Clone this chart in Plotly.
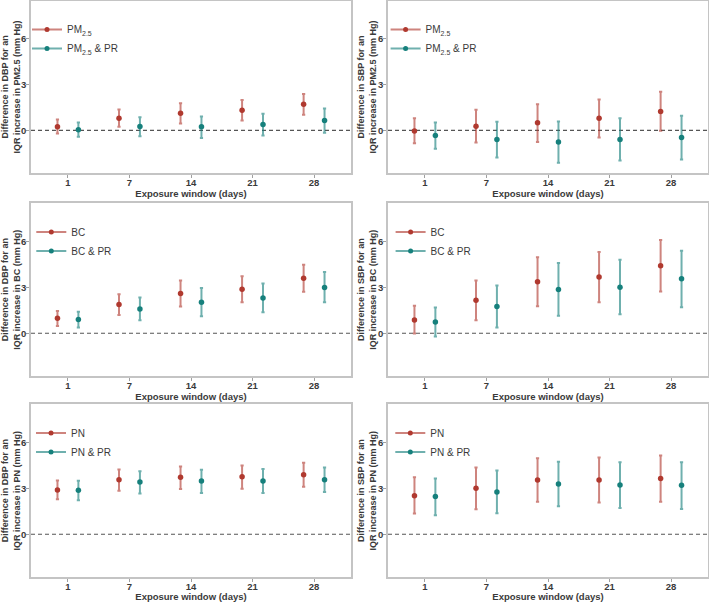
import plotly.graph_objects as go

days = ["1", "7", "14", "21", "28"]

# ---- DBP, PM2.5 ----
dbp_pm25_est = [0.24, 0.80, 1.13, 1.33, 1.72]
dbp_pm25_lo = [-0.20, 0.24, 0.46, 0.65, 1.02]
dbp_pm25_hi = [0.72, 1.37, 1.78, 2.00, 2.39]
dbp_pm25pr_est = [0.04, 0.26, 0.24, 0.39, 0.65]
dbp_pm25pr_lo = [-0.41, -0.39, -0.50, -0.33, -0.15]
dbp_pm25pr_hi = [0.52, 0.87, 0.91, 1.09, 1.43]

# ---- SBP, PM2.5 ----
sbp_pm25_est = [-0.04, 0.28, 0.50, 0.79, 1.24]
sbp_pm25_lo = [-0.85, -0.79, -0.76, -0.46, -0.02]
sbp_pm25_hi = [0.79, 1.35, 1.72, 2.03, 2.53]
sbp_pm25pr_est = [-0.33, -0.59, -0.76, -0.59, -0.46]
sbp_pm25pr_lo = [-1.20, -1.77, -2.12, -1.97, -1.90]
sbp_pm25pr_hi = [0.52, 0.57, 0.59, 0.79, 0.96]

# ---- DBP, BC ----
dbp_bc_est = [0.98, 1.88, 2.60, 2.88, 3.60]
dbp_bc_lo = [0.48, 1.20, 1.75, 2.03, 2.71]
dbp_bc_hi = [1.46, 2.55, 3.45, 3.73, 4.48]
dbp_bcpr_est = [0.90, 1.59, 2.03, 2.31, 2.99]
dbp_bcpr_lo = [0.37, 0.85, 1.11, 1.38, 2.03]
dbp_bcpr_hi = [1.40, 2.34, 2.95, 3.25, 4.00]

# ---- SBP, BC ----
sbp_bc_est = [0.87, 2.16, 3.36, 3.67, 4.41]
sbp_bc_lo = [-0.02, 0.85, 1.77, 2.03, 2.73]
sbp_bc_hi = [1.79, 3.45, 4.96, 5.31, 6.09]
sbp_bcpr_est = [0.74, 1.75, 2.86, 3.01, 3.56]
sbp_bcpr_lo = [-0.22, 0.37, 1.14, 1.24, 1.70]
sbp_bcpr_hi = [1.68, 3.12, 4.59, 4.80, 5.39]

# ---- DBP, PN ----
dbp_pn_est = [2.89, 3.57, 3.72, 3.76, 3.89]
dbp_pn_lo = [2.28, 2.85, 2.96, 2.98, 3.11]
dbp_pn_hi = [3.52, 4.24, 4.43, 4.50, 4.67]
dbp_pnpr_est = [2.87, 3.41, 3.48, 3.48, 3.57]
dbp_pnpr_lo = [2.22, 2.67, 2.70, 2.70, 2.76]
dbp_pnpr_hi = [3.50, 4.11, 4.22, 4.26, 4.37]

# ---- SBP, PN ----
sbp_pn_est = [2.52, 3.00, 3.54, 3.54, 3.65]
sbp_pn_lo = [1.35, 1.63, 2.13, 2.07, 2.13]
sbp_pn_hi = [3.72, 4.37, 4.96, 5.02, 5.15]
sbp_pnpr_est = [2.46, 2.76, 3.28, 3.22, 3.20]
sbp_pnpr_lo = [1.24, 1.37, 1.83, 1.72, 1.65]
sbp_pnpr_hi = [3.65, 4.17, 4.74, 4.70, 4.70]

y_ticks = [0, 3, 6]
x_title = "Exposure window (days)"

panels = [
    ("DBP", "PM2.5", "PM<sub>2.5</sub>", (dbp_pm25_est, dbp_pm25_lo, dbp_pm25_hi), (dbp_pm25pr_est, dbp_pm25pr_lo, dbp_pm25pr_hi)),
    ("SBP", "PM2.5", "PM<sub>2.5</sub>", (sbp_pm25_est, sbp_pm25_lo, sbp_pm25_hi), (sbp_pm25pr_est, sbp_pm25pr_lo, sbp_pm25pr_hi)),
    ("DBP", "BC", "BC", (dbp_bc_est, dbp_bc_lo, dbp_bc_hi), (dbp_bcpr_est, dbp_bcpr_lo, dbp_bcpr_hi)),
    ("SBP", "BC", "BC", (sbp_bc_est, sbp_bc_lo, sbp_bc_hi), (sbp_bcpr_est, sbp_bcpr_lo, sbp_bcpr_hi)),
    ("DBP", "PN", "PN", (dbp_pn_est, dbp_pn_lo, dbp_pn_hi), (dbp_pnpr_est, dbp_pnpr_lo, dbp_pnpr_hi)),
    ("SBP", "PN", "PN", (sbp_pn_est, sbp_pn_lo, sbp_pn_hi), (sbp_pnpr_est, sbp_pnpr_lo, sbp_pnpr_hi)),
]

W, H = 709, 602
RED = "#B0392F"
RED_BAR = "rgba(176,57,47,0.62)"
TEAL = "#16807C"
TEAL_BAR = "rgba(22,128,124,0.62)"
FONT = "Liberation Sans, Arial, sans-serif"
TXT = "#3a3a3a"

col_px = [(31, 351), (388, 708)]
row_px = [(0.8, 173.1), (203.2, 376.1), (404.2, 577.1)]
legend_text_off = [[36, 37.6], [40.3, 42.6], [40, 42.3]]
DODGE = 0.17

fig = go.Figure()
layout = {}
for k, (bp, poll, poll_html, single, dual) in enumerate(panels):
    r, c = divmod(k, 2)
    n = k + 1
    xa = "x" if n == 1 else f"x{n}"
    ya = "y" if n == 1 else f"y{n}"
    lg = "legend" if n == 1 else f"legend{n}"
    idx = list(range(len(days)))
    for (est, lo, hi), off, col, bar, name in [
        (single, -DODGE, RED, RED_BAR, poll_html),
        (dual, DODGE, TEAL, TEAL_BAR, poll_html + " & PR"),
    ]:
        fig.add_trace(go.Scatter(
            x=[i + off for i in idx], y=est, mode="markers",
            marker=dict(color=col, size=5.5),
            error_y=dict(type="data", symmetric=False,
                         array=[h - e for h, e in zip(hi, est)],
                         arrayminus=[e - l for e, l in zip(est, lo)],
                         color=bar, thickness=2, width=1.6),
            xaxis=xa, yaxis=ya, showlegend=False, hoverinfo="skip"))
        fig.add_trace(go.Scatter(
            x=[None], y=[None], mode="lines+markers", name=name,
            marker=dict(color=col, size=5), line=dict(color=bar, width=2),
            xaxis=xa, yaxis=ya, legend=lg, showlegend=True))

    x0, x1 = col_px[c]
    t, b = row_px[r]
    xdom = [x0 / W, x1 / W]
    ydom = [1 - b / H, 1 - t / H]
    axis_common = dict(showline=True, mirror=True, linecolor="#c4c4c4", linewidth=1.5,
                       showgrid=False, zeroline=False, ticks="outside", ticklen=3,
                       tickcolor="#a0a0a0", tickwidth=1,
                       tickfont=dict(family=FONT, size=9.5, color=TXT, weight="bold"))
    layout["xaxis" if n == 1 else f"xaxis{n}"] = dict(
        axis_common, domain=xdom, anchor=ya, range=[-0.6, 4.6],
        tickmode="array", tickvals=idx, ticktext=days, ticklabelstandoff=-3,
        title=dict(text=x_title, standoff=0,
                   font=dict(family=FONT, size=9.5, color=TXT, weight="bold")))
    layout["yaxis" if n == 1 else f"yaxis{n}"] = dict(
        axis_common, domain=ydom, anchor=xa, range=[-2.8, 8.5],
        tickmode="array", tickvals=y_ticks, ticklabelstandoff=-2,
        title=dict(text=f"Difference in {bp} for an<br>IQR increase in {poll} (mm Hg)", standoff=0,
                   font=dict(family=FONT, size=9, color=TXT, weight="bold")))
    mid_y = 1 - (t + 38.2) / H
    lx = (x0 + legend_text_off[r][c] - 40) / W
    layout[lg] = dict(x=lx, y=mid_y, xanchor="left", yanchor="middle",
                      bgcolor="rgba(0,0,0,0)", borderwidth=0,
                      font=dict(family=FONT, size=10, color=TXT))
    fig.add_shape(type="line", xref=f"{xa} domain", yref=ya, x0=0, x1=1, y0=0, y1=0,
                  line=dict(color="#555555", width=1.2, dash="4px,3px"), layer="below")

fig.update_layout(**layout)
fig.update_layout(width=W, height=H, margin=dict(l=0, r=0, t=0, b=0, pad=0, autoexpand=False),
                  plot_bgcolor="white", paper_bgcolor="white",
                  font=dict(family=FONT, color=TXT))
fig.write_html("out.html", config={"displayModeBar": False},
               post_script="document.body.style.margin='0';")
